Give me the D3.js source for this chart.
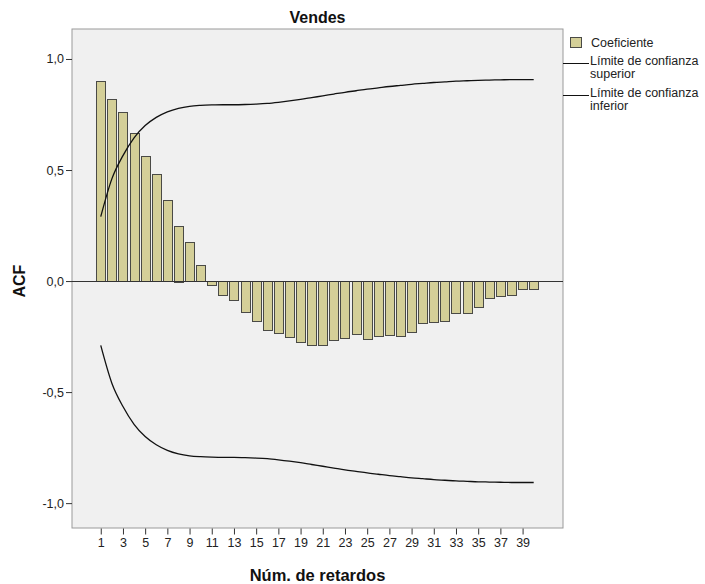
<!DOCTYPE html>
<html>
<head>
<meta charset="utf-8">
<script src="https://cdn.jsdelivr.net/npm/d3@7"></script>
<style>
    body { margin: 0; background: #fff; }
    svg { font-family: "Liberation Sans", Arial, sans-serif; }
</style>
</head>
<body>
<svg id="chart"></svg>
<script>
// lags 1..40
const lags = d3.range(1, 41);

// ACF coefficients
const acf = [
    0.90, 0.82, 0.76, 0.665, 0.565, 0.48, 0.365, 0.25, 0.175, 0.072,
    -0.02, -0.063, -0.086, -0.141, -0.18, -0.22, -0.234, -0.252, -0.276, -0.29,
    -0.287, -0.267, -0.255, -0.24, -0.26, -0.249, -0.245, -0.246, -0.228, -0.189,
    -0.183, -0.18, -0.143, -0.143, -0.117, -0.078, -0.069, -0.062, -0.035, -0.035
];

// confidence limits
const upperLimit = [
    0.29, 0.46, 0.565, 0.645, 0.70, 0.737, 0.762, 0.778, 0.787, 0.791,
    0.793, 0.794, 0.794, 0.795, 0.797, 0.80, 0.805, 0.811, 0.818, 0.826,
    0.834, 0.842, 0.85, 0.857, 0.864, 0.87, 0.876, 0.881, 0.886, 0.89,
    0.894, 0.897, 0.90, 0.902, 0.904, 0.905, 0.906, 0.907, 0.907, 0.907
];
const lowerLimit = [
    -0.29, -0.46, -0.565, -0.645, -0.70, -0.737, -0.762, -0.778, -0.787, -0.791,
    -0.793, -0.794, -0.794, -0.795, -0.797, -0.80, -0.805, -0.811, -0.818, -0.826,
    -0.834, -0.842, -0.85, -0.857, -0.864, -0.87, -0.876, -0.881, -0.886, -0.89,
    -0.894, -0.897, -0.90, -0.902, -0.904, -0.905, -0.906, -0.907, -0.907, -0.907
];

const xTicks = d3.range(1, 40, 2);
const yTicks = [-1.0, -0.5, 0.0, 0.5, 1.0];

const title = "Vendes";
const xTitle = "Núm. de retardos";
const yTitle = "ACF";
const legendItems = [
    ["bar", ["Coeficiente"]],
    ["line", ["Límite de confianza", "superior"]],
    ["line", ["Límite de confianza", "inferior"]]
];

/** ---------------------------------------------------------------- */

const width = 705, height = 584;
const plot = { left: 72, right: 563, top: 29, bottom: 528 };
const barColor = "#d4cf98";

let svg = d3.select("#chart")
    .attr("width", width)
    .attr("height", height);

const x = d3.scaleLinear()
    .domain([-1.59, 42.64])
    .range([plot.left, plot.right]);

const y = d3.scaleLinear()
    .domain([-1.112, 1.135])
    .range([plot.bottom, plot.top]);

// plot background
svg.append("rect")
    .attr("x", plot.left)
    .attr("y", plot.top)
    .attr("width", plot.right - plot.left)
    .attr("height", plot.bottom - plot.top)
    .attr("fill", "#f0f0f0")
    .attr("stroke", "#9a9a9a")
    .attr("stroke-width", 1);

const barW = 9;

// bars
svg.append("g")
    .selectAll("rect")
    .data(lags)
    .join("rect")
    .attr("x", d => Math.round(x(d) - barW / 2) + 0.5)
    .attr("y", (d, i) => Math.round(y(Math.max(0, acf[i]))) + 0.5)
    .attr("width", barW)
    .attr("height", (d, i) => Math.max(1, Math.round(Math.abs(y(acf[i]) - y(0)))))
    .attr("fill", barColor)
    .attr("stroke", "#4a4a46")
    .attr("stroke-width", 1);

// zero line
svg.append("line")
    .attr("x1", plot.left)
    .attr("x2", plot.right)
    .attr("y1", Math.round(y(0)) + 0.5)
    .attr("y2", Math.round(y(0)) + 0.5)
    .attr("stroke", "#333")
    .attr("stroke-width", 1);

// confidence limits
const line = d3.line()
    .curve(d3.curveMonotoneX)
    .x((d, i) => x(lags[i]))
    .y(d => y(d));

[upperLimit, lowerLimit].forEach(arr => {
    svg.append("path")
        .attr("d", line(arr))
        .attr("fill", "none")
        .attr("stroke", "#111")
        .attr("stroke-width", 1.3);
});

// y axis
const yAxis = d3.axisLeft(y)
    .tickValues(yTicks)
    .tickSize(6)
    .tickPadding(2)
    .tickFormat(d => d3.format(".1f")(d).replace(".", ",").replace("−", "-"));

let gy = svg.append("g")
    .attr("transform", `translate(${plot.left},0)`)
    .call(yAxis);
gy.select(".domain").remove();
gy.selectAll("line").attr("stroke", "#333");
gy.selectAll("text")
    .attr("font-size", 12.5)
    .attr("fill", "#222");

// x axis
const xAxis = d3.axisBottom(x)
    .tickValues(xTicks)
    .tickSize(6)
    .tickPadding(4)
    .tickFormat(d3.format("d"));

let gx = svg.append("g")
    .attr("transform", `translate(0,${plot.bottom + 0.5})`)
    .call(xAxis);
gx.select(".domain").remove();
gx.selectAll("line").attr("stroke", "#333");
gx.selectAll("text")
    .attr("font-size", 12.5)
    .attr("fill", "#222");

// titles
svg.append("text")
    .attr("x", (plot.left + plot.right) / 2)
    .attr("y", 23)
    .attr("text-anchor", "middle")
    .attr("font-size", 16)
    .attr("font-weight", "bold")
    .attr("fill", "#111")
    .text(title);

svg.append("text")
    .attr("x", (plot.left + plot.right) / 2)
    .attr("y", 581)
    .attr("text-anchor", "middle")
    .attr("font-size", 16.5)
    .attr("font-weight", "bold")
    .attr("fill", "#111")
    .text(xTitle);

svg.append("text")
    .attr("transform", `translate(25,${y(0)}) rotate(-90)`)
    .attr("text-anchor", "middle")
    .attr("font-size", 16)
    .attr("font-weight", "bold")
    .attr("fill", "#111")
    .text(yTitle);

// legend
let legend = svg.append("g");
let ly = 37;
legendItems.forEach(([kind, lines]) => {
    if (kind === "bar") {
        legend.append("rect")
            .attr("x", 570.5)
            .attr("y", ly + 0.5)
            .attr("width", 11)
            .attr("height", 10)
            .attr("fill", barColor)
            .attr("stroke", "#4a4a46");
        legend.append("text")
            .attr("x", 591)
            .attr("y", ly + 10)
            .attr("font-size", 12.5)
            .attr("fill", "#222")
            .text(lines[0]);
        ly += 26;
    } else {
        legend.append("line")
            .attr("x1", plot.right)
            .attr("x2", 589)
            .attr("y1", ly + 0.5)
            .attr("y2", ly + 0.5)
            .attr("stroke", "#111");
        lines.forEach((t, j) => {
            legend.append("text")
                .attr("x", 590)
                .attr("y", ly + 2 + j * 13)
                .attr("font-size", 12.5)
                .attr("fill", "#222")
                .text(t);
        });
        ly += 32;
    }
});
</script>
</body>
</html>
